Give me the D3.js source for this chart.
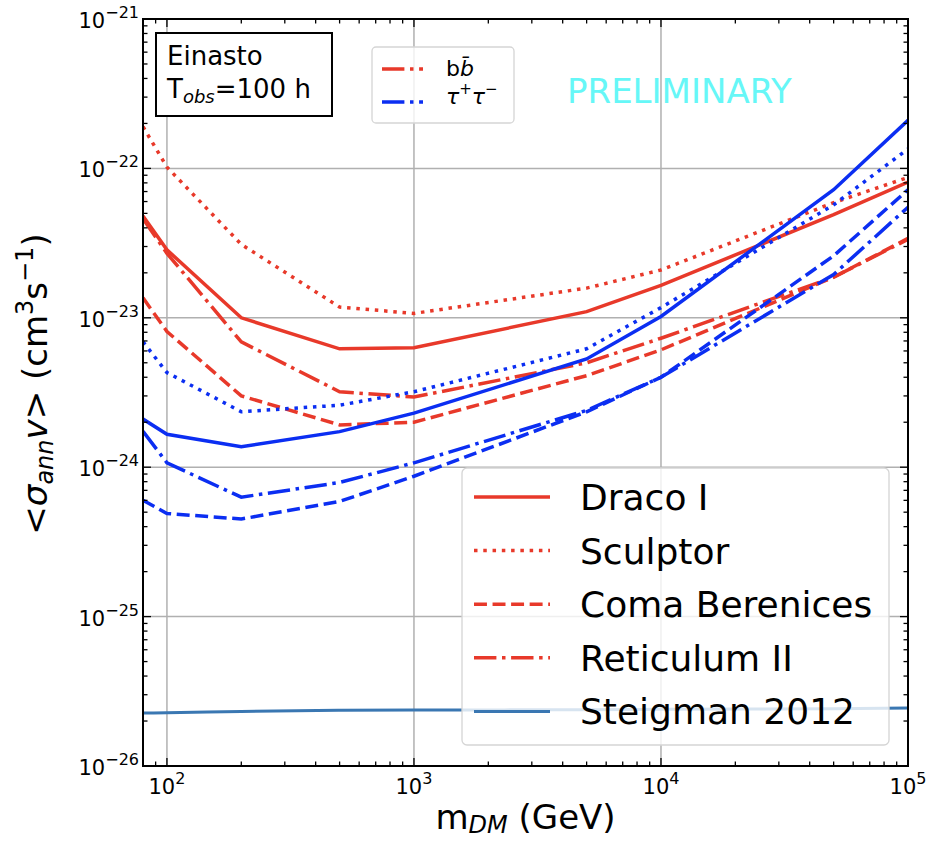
<!DOCTYPE html>
<html>
<head>
<meta charset="utf-8">
<script src="https://cdn.jsdelivr.net/npm/d3@7"></script>
<style>
  body { margin: 0; background: #fff; }
  text { font-family: "DejaVu Sans", sans-serif; }
</style>
</head>
<body>
<div id="chart"></div>
<script>
// masses (GeV)
const masses = [80, 100, 200, 500, 1000, 5000, 10000, 50000, 100000]

// b bbar channel
const dracoBB = [4.8e-23, 2.85e-23, 1.0e-23, 6.2e-24, 6.3e-24, 1.1e-23, 1.65e-23, 4.9e-23, 8.1e-23]
const sculptorBB = [1.9e-22, 1.02e-22, 3.1e-23, 1.18e-23, 1.07e-23, 1.58e-23, 2.09e-23, 5.9e-23, 8.7e-23]
const comaBB = [1.36e-23, 8.1e-24, 3.0e-24, 1.92e-24, 2.0e-24, 4.1e-24, 6.1e-24, 1.87e-23, 3.4e-23]
const reticulumBB = [4.6e-23, 2.7e-23, 6.9e-24, 3.2e-24, 2.95e-24, 5.0e-24, 7.3e-24, 1.87e-23, 3.35e-23]

// tau tau channel
const dracoTT = [2.1e-24, 1.66e-24, 1.37e-24, 1.73e-24, 2.3e-24, 5.3e-24, 1.02e-23, 7.2e-23, 2.1e-22]
const sculptorTT = [6.9e-24, 4.3e-24, 2.35e-24, 2.6e-24, 3.2e-24, 6.2e-24, 1.17e-23, 5.7e-23, 1.35e-22]
const comaTT = [6.0e-25, 4.9e-25, 4.5e-25, 5.9e-25, 8.7e-25, 2.35e-24, 4.0e-24, 2.6e-23, 7.2e-23]
const reticulumTT = [1.74e-24, 1.07e-24, 6.3e-25, 7.9e-25, 1.07e-24, 2.4e-24, 4.0e-24, 1.95e-23, 5.5e-23]

// thermal relic
const steigmanMass = [80, 100, 200, 500, 1000, 5000, 10000, 50000, 100000]
const steigman = [2.26e-26, 2.27e-26, 2.32e-26, 2.36e-26, 2.37e-26, 2.38e-26, 2.4e-26, 2.42e-26, 2.44e-26]

const xDomain = [80, 1e5]
const yDomain = [1e-26, 1e-21]
const xMajor = [100, 1000, 10000, 100000]
const yMajor = [1e-26, 1e-25, 1e-24, 1e-23, 1e-22, 1e-21]

const RED = "#e8392a"
const BLUE = "#0b2ef2"
const STEIG = "#3a77b2"
const LW = 3.5

const width = 934
const height = 841
const m = { left: 143, right: 908, top: 19, bottom: 766 }

const svg = d3.select("#chart").append("svg")
    .attr("width", width)
    .attr("height", height)

const x = d3.scaleLog().domain(xDomain).range([m.left, m.right])
const y = d3.scaleLog().domain(yDomain).range([m.bottom, m.top])

// dash patterns scaled by line width like matplotlib
const dashes = {
  solid: null,
  dotted: [1, 1.65].map(d => d * LW).join(","),
  dashed: [3.7, 1.6].map(d => d * LW).join(","),
  dashdot: [6.4, 1.6, 1, 1.6].map(d => d * LW).join(",")
}

svg.append("defs").append("clipPath").attr("id", "clip")
  .append("rect")
  .attr("x", m.left).attr("y", m.top)
  .attr("width", m.right - m.left).attr("height", m.bottom - m.top)

// grid
svg.append("g").selectAll("line").data(xMajor.filter(d => x(d) < m.right - 1))
  .join("line")
  .attr("x1", d => x(d)).attr("x2", d => x(d))
  .attr("y1", m.top).attr("y2", m.bottom)
  .attr("stroke", "#b0b0b0").attr("stroke-width", 1.5)
svg.append("g").selectAll("line").data(yMajor.slice(1, -1))
  .join("line")
  .attr("y1", d => y(d)).attr("y2", d => y(d))
  .attr("x1", m.left).attr("x2", m.right)
  .attr("stroke", "#b0b0b0").attr("stroke-width", 1.5)

const line = d3.line()
    .x(d => x(d[0]))
    .y(d => y(d[1]))

const series = [
  { vals: dracoBB, color: RED, style: "solid" },
  { vals: sculptorBB, color: RED, style: "dotted" },
  { vals: comaBB, color: RED, style: "dashed" },
  { vals: reticulumBB, color: RED, style: "dashdot" },
  { vals: dracoTT, color: BLUE, style: "solid" },
  { vals: sculptorTT, color: BLUE, style: "dotted" },
  { vals: comaTT, color: BLUE, style: "dashed" },
  { vals: reticulumTT, color: BLUE, style: "dashdot" }
]

const plot = svg.append("g").attr("clip-path", "url(#clip)")

series.forEach(s => {
  plot.append("path")
    .datum(masses.map((d, i) => [d, s.vals[i]]))
    .attr("d", line)
    .attr("fill", "none")
    .attr("stroke", s.color)
    .attr("stroke-width", LW)
    .attr("stroke-dasharray", dashes[s.style])
})

plot.append("path")
  .datum(steigmanMass.map((d, i) => [d, steigman[i]]))
  .attr("d", line.curve(d3.curveMonotoneX))
  .attr("fill", "none")
  .attr("stroke", STEIG)
  .attr("stroke-width", 3)

// ticks, inward on all four sides
const xTicks = x.ticks().filter(d => d >= xDomain[0] && d <= xDomain[1])
const yTicks = y.ticks()
const isMajor = d => Math.abs(Math.log10(d) - Math.round(Math.log10(d))) < 1e-6
const tickG = svg.append("g").attr("stroke", "#000").attr("stroke-width", 1.3)

xTicks.forEach(d => {
  const len = isMajor(d) ? 8 : 4.5
  tickG.append("line").attr("x1", x(d)).attr("x2", x(d)).attr("y1", m.bottom).attr("y2", m.bottom - len)
  tickG.append("line").attr("x1", x(d)).attr("x2", x(d)).attr("y1", m.top).attr("y2", m.top + len)
})
yTicks.forEach(d => {
  const len = isMajor(d) ? 8 : 4.5
  tickG.append("line").attr("y1", y(d)).attr("y2", y(d)).attr("x1", m.left).attr("x2", m.left + len)
  tickG.append("line").attr("y1", y(d)).attr("y2", y(d)).attr("x1", m.right).attr("x2", m.right - len)
})

// frame
svg.append("rect")
  .attr("x", m.left).attr("y", m.top)
  .attr("width", m.right - m.left).attr("height", m.bottom - m.top)
  .attr("fill", "none").attr("stroke", "#000").attr("stroke-width", 2)

// tick labels
xMajor.forEach(d => {
  const t = svg.append("text")
    .attr("x", x(d)).attr("y", 794)
    .attr("text-anchor", "middle")
    .attr("font-size", 21)
  t.append("tspan").text("10")
  t.append("tspan").attr("font-size", 16).attr("dy", -10).text(Math.round(Math.log10(d)))
})
yMajor.forEach(d => {
  const t = svg.append("text")
    .attr("x", 139).attr("y", y(d) + 9)
    .attr("text-anchor", "end")
    .attr("font-size", 21)
  t.append("tspan").text("10")
  t.append("tspan").attr("font-size", 16).attr("dy", -10)
    .text("\u2212" + Math.abs(Math.round(Math.log10(d))))
})

// axis labels
const xl = svg.append("text")
  .attr("x", (m.left + m.right) / 2).attr("y", 829)
  .attr("text-anchor", "middle").attr("font-size", 34)
xl.append("tspan").text("m")
xl.append("tspan").attr("font-size", 24).attr("font-style", "italic").attr("dy", 4).text("DM")
xl.append("tspan").attr("dy", -4).text(" (GeV)")

const yl = svg.append("text")
  .attr("transform", `translate(47,384) rotate(-90)`)
  .attr("text-anchor", "middle").attr("font-size", 34)
yl.append("tspan").text("<")
yl.append("tspan").attr("font-style", "italic").text("σ")
yl.append("tspan").attr("font-style", "italic").attr("font-size", 24).attr("dy", 6).text("ann")
yl.append("tspan").attr("font-style", "italic").attr("dy", -6).text("v")
yl.append("tspan").text("> (cm")
yl.append("tspan").attr("font-size", 24).attr("dy", -14).text("3")
yl.append("tspan").attr("dy", 14).text("s")
yl.append("tspan").attr("font-size", 24).attr("dy", -14).text("\u22121")
yl.append("tspan").attr("dy", 14).text(")")

// watermark
svg.append("text")
  .attr("x", 567).attr("y", 103)
  .attr("font-size", 34)
  .attr("fill", "#66f7f7")
  .text("PRELIMINARY")

// profile box
svg.append("rect")
  .attr("x", 156).attr("y", 33).attr("width", 176).attr("height", 83)
  .attr("fill", "#fff").attr("stroke", "#000").attr("stroke-width", 2)
svg.append("text").attr("x", 167).attr("y", 65).attr("font-size", 26).text("Einasto")
const tob = svg.append("text").attr("x", 167).attr("y", 98).attr("font-size", 26)
tob.append("tspan").text("T")
tob.append("tspan").attr("font-size", 18).attr("font-style", "italic").attr("dy", 5).text("obs")
tob.append("tspan").attr("dy", -5).text("=100 h")

// channel legend
svg.append("rect")
  .attr("x", 372).attr("y", 47).attr("width", 142).attr("height", 76).attr("rx", 4)
  .attr("fill", "#fff").attr("fill-opacity", 0.8)
  .attr("stroke", "#d5d5d5").attr("stroke-width", 1.3)
const channels = [
  { color: RED, y: 69 },
  { color: BLUE, y: 102 }
]
channels.forEach(c => {
  svg.append("line")
    .attr("x1", 382).attr("x2", 423).attr("y1", c.y).attr("y2", c.y)
    .attr("stroke", c.color).attr("stroke-width", LW)
    .attr("stroke-dasharray", dashes.dashdot)
})
const bb = svg.append("text").attr("x", 446).attr("y", 76).attr("font-size", 22)
bb.append("tspan").text("b")
bb.append("tspan").attr("font-style", "italic").text("b\u0304")
const tt = svg.append("text").attr("x", 446).attr("y", 104).attr("font-size", 22)
tt.append("tspan").attr("font-style", "italic").text("τ")
tt.append("tspan").attr("font-size", 15).attr("dy", -10).text("+")
tt.append("tspan").attr("font-style", "italic").attr("dy", 10).text("τ")
tt.append("tspan").attr("font-size", 15).attr("dy", -10).text("\u2212")

// target legend
const targets = ["Draco I", "Sculptor", "Coma Berenices", "Reticulum II", "Steigman 2012"]
const targetStyles = ["solid", "dotted", "dashed", "dashdot", "solid"]
const targetColors = [RED, RED, RED, RED, STEIG]
svg.append("rect")
  .attr("x", 462).attr("y", 468).attr("width", 427).attr("height", 277).attr("rx", 5)
  .attr("fill", "#fff").attr("fill-opacity", 0.8)
  .attr("stroke", "#d5d5d5").attr("stroke-width", 1.3)
targets.forEach((name, i) => {
  const ry = 497 + i * 53.6
  svg.append("line")
    .attr("x1", 474).attr("x2", 550).attr("y1", ry).attr("y2", ry)
    .attr("stroke", targetColors[i])
    .attr("stroke-width", i == 4 ? 3 : LW)
    .attr("stroke-dasharray", dashes[targetStyles[i]])
  svg.append("text")
    .attr("x", 580).attr("y", ry + 13)
    .attr("font-size", 36)
    .text(name)
})
</script>
</body>
</html>
